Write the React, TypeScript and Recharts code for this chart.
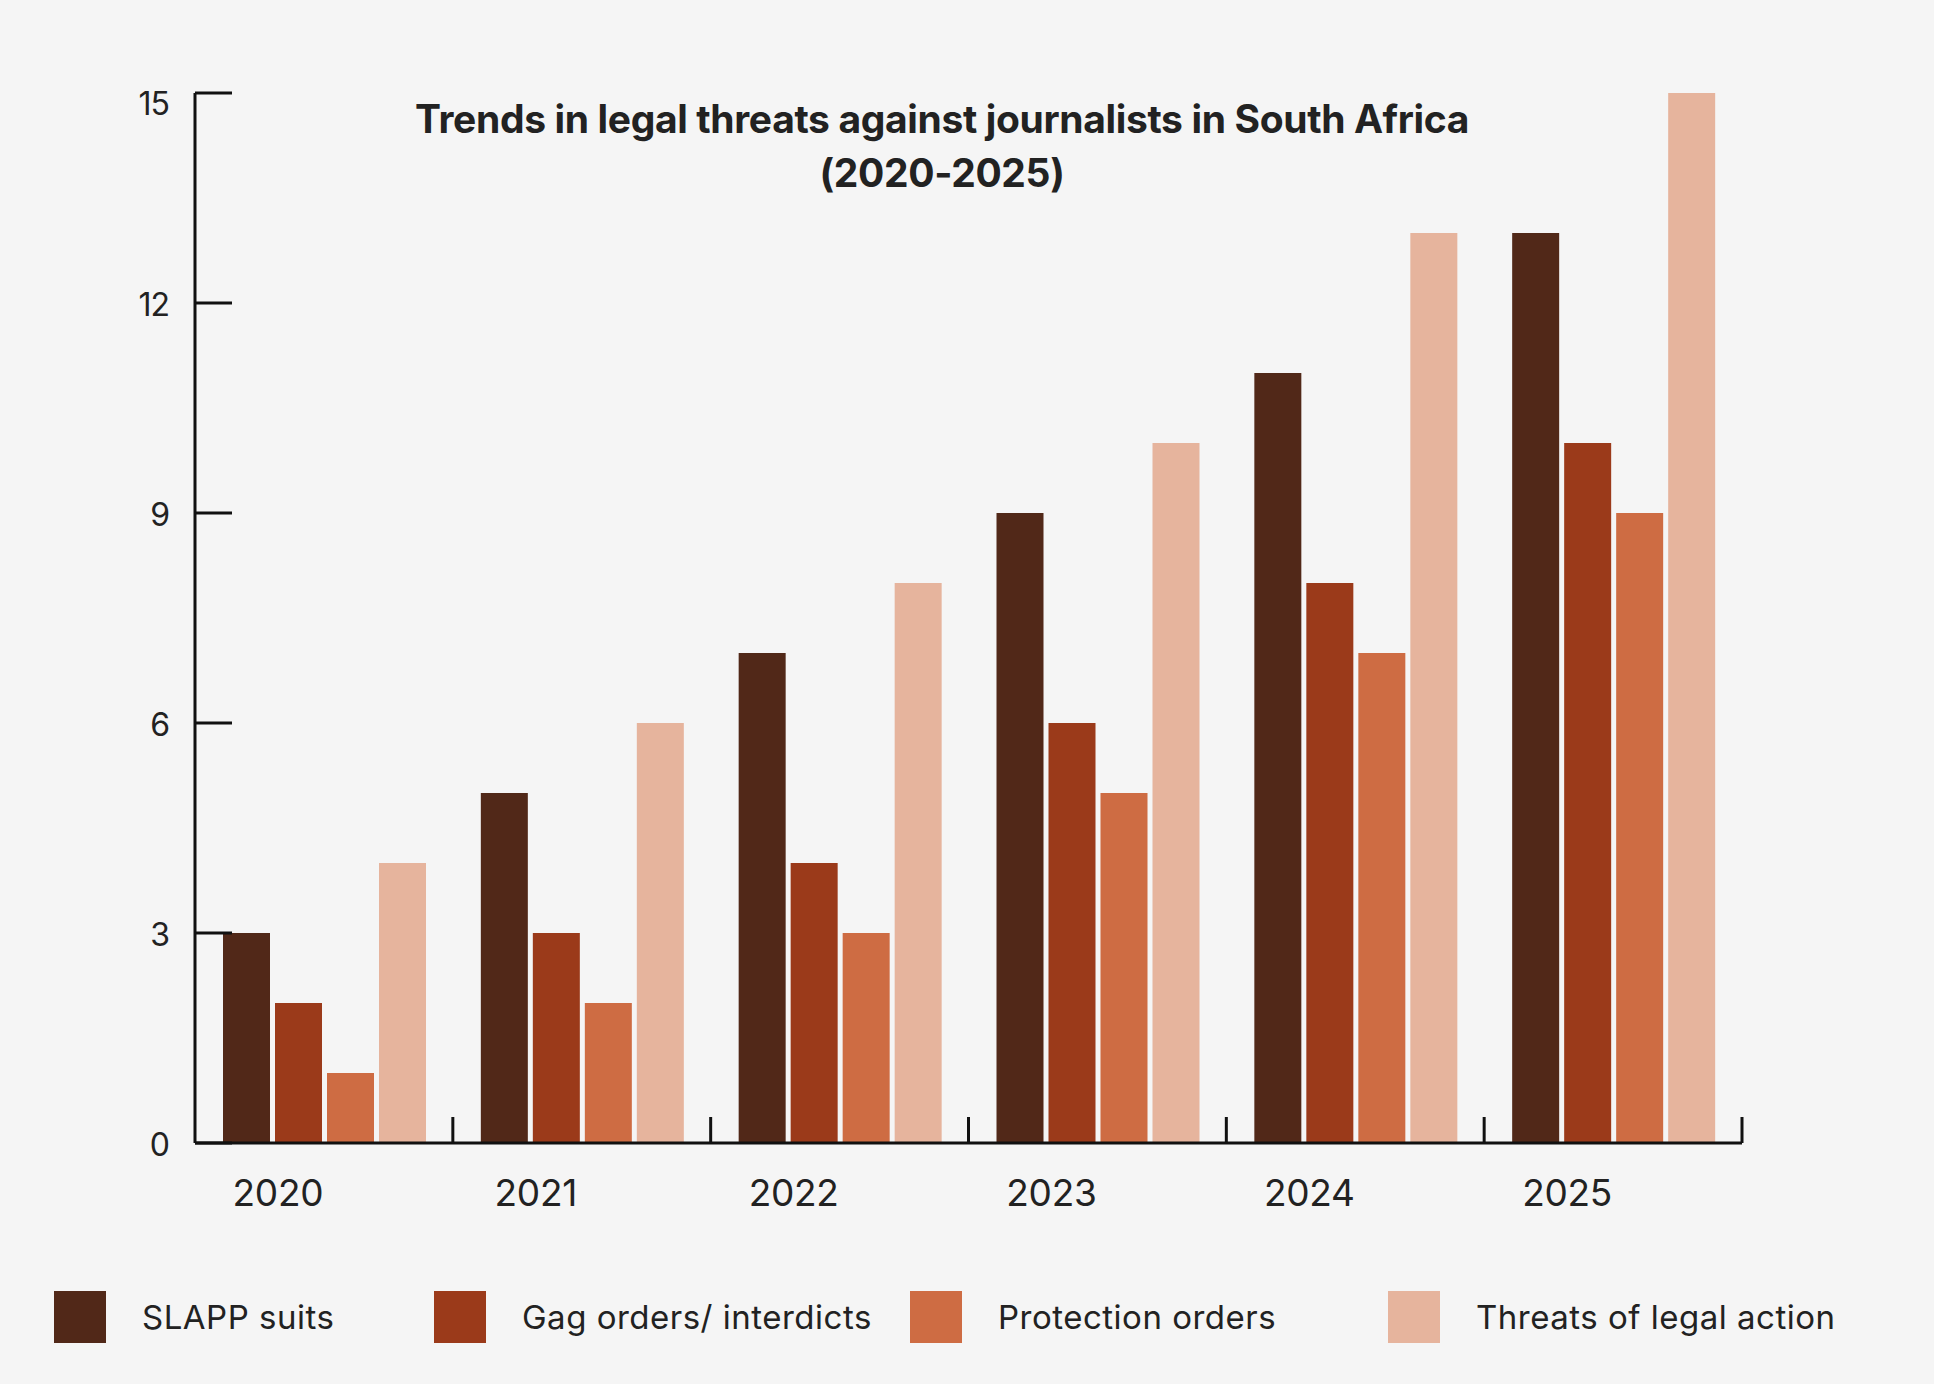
import React from 'react';
import { BarChart, Bar, XAxis, YAxis } from 'recharts';

const years = ['2020', '2021', '2022', '2023', '2024', '2025'];
const slappSuits = [3, 5, 7, 9, 11, 13];
const gagOrders = [2, 3, 4, 6, 8, 10];
const protectionOrders = [1, 2, 3, 5, 7, 9];
const legalThreats = [4, 6, 8, 10, 13, 15];
const yTicks = [0, 3, 6, 9, 12, 15];

const seriesNames = ['SLAPP suits', 'Gag orders/ interdicts', 'Protection orders', 'Threats of legal action'];
const seriesKeys = ['slapp', 'gag', 'protection', 'threats'];
const seriesColors = ['#512818', '#9B3A1A', '#CE6C43', '#E6B49D'];

const data = years.map((y, i) => ({
  year: y,
  slapp: slappSuits[i],
  gag: gagOrders[i],
  protection: protectionOrders[i],
  threats: legalThreats[i],
}));

const FONT = 'Inter, "Noto Sans", sans-serif';
const TEXT = '#222222';

const YTick = (props: any) => {
  const { x, y, payload, index } = props;
  const isTop = index === yTicks.length - 1;
  return (
    <g>
      <line x1={x} x2={x + 37} y1={y} y2={y} stroke="#111" strokeWidth={3} />
      <text x={x - 26} y={y} dy={isTop ? 22 : 13} textAnchor="end" fontFamily={FONT} fontSize={32} fill={TEXT} letterSpacing={-1}>
        {payload.value}
      </text>
    </g>
  );
};

const XTick = (props: any) => {
  const { x, y, payload } = props;
  const half = payload && typeof payload.offset === 'number' ? payload.offset : 0;
  return (
    <g>
      {half > 0 && <line x1={x + half} x2={x + half} y1={y} y2={y - 26} stroke="#111" strokeWidth={3} />}
      <text x={x - 46} y={y + 63} textAnchor="middle" fontFamily={FONT} fontSize={37} fill={TEXT} letterSpacing={-0.3}>
        {payload.value}
      </text>
    </g>
  );
};

const legendLeft = [54, 434, 910, 1388];

export default function App() {
  return (
    <div style={{ position: 'absolute', left: 0, top: 0, width: 1934, height: 1384, background: '#F5F5F5', overflow: 'hidden' }}>
      <div
        style={{
          position: 'absolute',
          left: 0,
          width: 1884,
          top: 92,
          textAlign: 'center',
          fontFamily: FONT,
          fontWeight: 700,
          fontSize: 39,
          lineHeight: '54px',
          letterSpacing: -0.35,
          color: TEXT,
        }}
      >
        Trends in legal threats against journalists in South Africa
        <br />
        (2020-2025)
      </div>
      <div style={{ position: 'absolute', left: 0, top: 0 }}>
        <BarChart
          width={1934}
          height={1384}
          data={data}
          margin={{ top: 93, right: 192, bottom: 240, left: 135 }}
          barCategoryGap={28}
          barGap={5}
        >
          <XAxis
            dataKey="year"
            height={1}
            tickSize={0}
            tickMargin={0}
            axisLine={{ stroke: '#111', strokeWidth: 3 }}
            tickLine={false}
            tick={<XTick />}
            interval={0}
          />
          <YAxis
            domain={[0, 15]}
            ticks={yTicks}
            width={60}
            tickSize={0}
            tickMargin={0}
            axisLine={{ stroke: '#111', strokeWidth: 3 }}
            tickLine={false}
            tick={<YTick />}
            interval={0}
          />
          {seriesKeys.map((k, i) => (
            <Bar key={k} dataKey={k} name={seriesNames[i]} fill={seriesColors[i]} isAnimationActive={false} />
          ))}
        </BarChart>
      </div>
      {seriesNames.map((n, i) => (
        <div key={n} style={{ position: 'absolute', left: legendLeft[i], top: 1291, display: 'flex', alignItems: 'center', height: 52 }}>
          <div style={{ width: 52, height: 52, background: seriesColors[i] }} />
          <span style={{ marginLeft: 36, fontFamily: FONT, fontSize: 33, color: TEXT, letterSpacing: 0.5 }}>{n}</span>
        </div>
      ))}
    </div>
  );
}
